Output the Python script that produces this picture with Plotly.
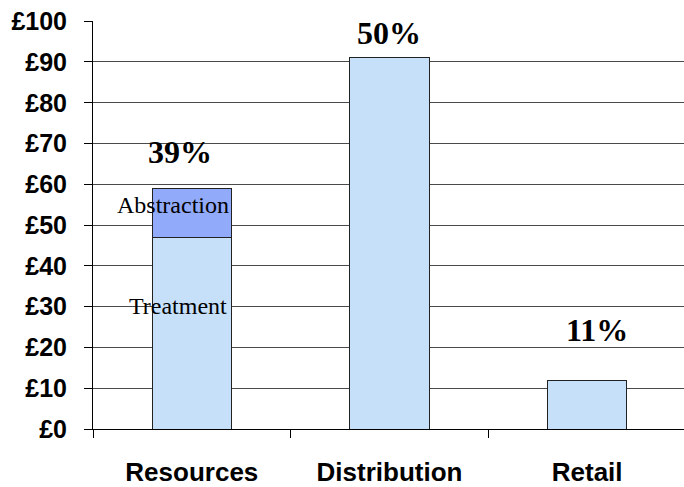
import plotly.graph_objects as go

# Cost breakdown per stage (£)
categories = ["Resources", "Distribution", "Retail"]
base_values = [47, 91, 12]          # Treatment / stage totals
abstraction_values = [12, None, None]

# Share labels above each stage
share_labels = ["39%", "50%", "11%"]
share_x = [-0.06, 1.0, 2.05]
share_y = [68, 97.2, 24.3]

# Segment labels inside the Resources bar
segment_labels = ["Abstraction", "Treatment"]
segment_x = [-0.095, -0.07]
segment_y = [55, 30.2]

light_blue = "#C6E0FA"
mid_blue = "#92AAFA"
outline = "#222222"

fig = go.Figure()
fig.add_trace(go.Bar(
    x=categories, y=base_values, width=0.4,
    marker=dict(color=light_blue, line=dict(color=outline, width=1)),
    showlegend=False, hoverinfo="skip",
))
fig.add_trace(go.Bar(
    x=categories, y=abstraction_values, width=0.4,
    marker=dict(color=mid_blue, line=dict(color=outline, width=1)),
    showlegend=False, hoverinfo="skip",
))

for txt, xv, yv in zip(share_labels, share_x, share_y):
    fig.add_annotation(
        x=xv, y=yv, text=txt, showarrow=False,
        font=dict(family="Liberation Serif, Times New Roman", size=32,
                  color="black", weight="bold"),
    )

for txt, xv, yv in zip(segment_labels, segment_x, segment_y):
    fig.add_annotation(
        x=xv, y=yv, text=txt, showarrow=False,
        font=dict(family="Liberation Serif, Times New Roman", size=24, color="black"),
    )

fig.update_layout(
    width=684, height=487, autosize=False,
    margin=dict(l=93, r=0, t=21, b=58),
    barmode="stack",
    plot_bgcolor="white", paper_bgcolor="white",
    xaxis=dict(
        type="category", range=[-0.5, 2.49],
        showline=True, linecolor="black", linewidth=1,
        ticks="outside", tickson="boundaries", ticklen=8, tickcolor="black",
        showgrid=False,
        tickfont=dict(family="Liberation Sans, Arial", size=26, color="black", weight="bold"),
        ticklabelstandoff=20,
    ),
    yaxis=dict(
        range=[0, 100.05], dtick=10, tick0=0,
        tickprefix="£",
        showline=True, linecolor="black", linewidth=1,
        ticks="outside", ticklen=8, tickcolor="black",
        showgrid=True, gridcolor="#4a4a4a", gridwidth=1,
        zeroline=False,
        tickfont=dict(family="Liberation Sans, Arial", size=25, color="black", weight="bold"),
        ticklabelstandoff=12,
    ),
)

fig.write_html("out.html")
